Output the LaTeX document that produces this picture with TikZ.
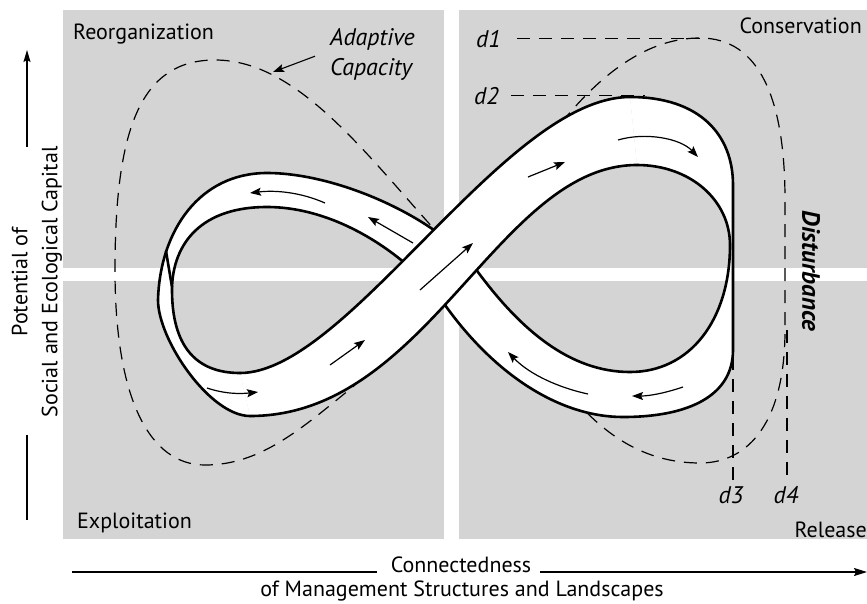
\documentclass[tikz,border=0pt]{standalone}
\usepackage{fontspec}
\setmainfont{PT Sans}
\usetikzlibrary{arrows.meta, positioning}

\definecolor{panel}{gray}{0.83}

\tikzset{
  band/.style={line width=2.6pt, line join=round, line cap=round},
  cycleline/.style={line width=1.2pt, dash pattern=on 13pt off 9pt},
  flow/.style={line width=1.2pt, -{Stealth[length=11pt, width=8pt, inset=2pt]}},
  lbl/.style={font=\fontsize{22}{30}\selectfont, inner sep=0pt},
  ilbl/.style={font=\fontsize{24}{30}\selectfont\itshape, inner sep=0pt},
}

\begin{document}
\begin{tikzpicture}[x=1pt, y=-1pt]
\useasboundingbox (0,0) rectangle (867,603);

% the four phases
\fill[panel] (63,10) rectangle (444,268);
\fill[panel] (459,10) rectangle (867,268);
\fill[panel] (63,281) rectangle (444,539);
\fill[panel] (459,281) rectangle (867,539);

% ends of the strand that passes over
\coordinate (ibl) at (240,373);
\coordinate (obl) at (250,416);
\coordinate (otr) at (630,97);
\coordinate (itr) at (637,165);
% fold at the left end
\coordinate (folda) at (166,251);
\coordinate (foldb) at (172,287);

% adaptive capacity, drawn under the band
\draw[cycleline] (445,241) .. controls (370,160) and (300,60) .. (215,60)
  .. controls (140,60) and (115,130) .. (115,270)
  .. controls (115,400) and (150,465) .. (205,465)
  .. controls (260,465) and (300,430) .. (355,385);
\draw[cycleline] (548,140) .. controls (600,70) and (650,38) .. (700,38)
  .. controls (760,38) and (785,100) .. (785,200) -- (785,330)
  .. controls (785,420) and (750,463) .. (700,463)
  .. controls (650,463) and (610,440) .. (575,400);

% disturbance levels
\node[ilbl, anchor=base west] (d1) at (476,47) {d1};
\node[ilbl, anchor=base west] (d2) at (474,104) {d2};
\node[ilbl, anchor=base] (d3) at (731,503) {d3};
\node[ilbl, anchor=base] (d4) at (786,503) {d4};
\coordinate (d1end) at (700,0);
\coordinate (d2end) at (645,0);
\coordinate (d3top) at (733,357);
\coordinate (d4top) at (787,330);
\path (d3top |- d3.north) coordinate (d3bot);
\path (d4top |- d4.north) coordinate (d4bot);
\draw[cycleline] ([xshift=16pt]d1.east) -- (d1.east -| d1end);
\draw[cycleline] ([xshift=12pt]d2.east) -- (d2.east -| d2end);
\draw[cycleline] (d3top) -- ([yshift=4pt]d3bot);
\draw[cycleline] (d4top) -- ([yshift=4pt]d4bot);

% back half of the band: left lobe top, under strand, right lobe bottom
\fill[white] (itr) .. controls (690,165) and (730,200) .. (730,245)
  .. controls (730,320) and (690,372) .. (630,372)
  .. controls (570,372) and (520,330) .. (475,268)
  .. controls (440,220) and (340,173) .. (267,173)
  .. controls (200,173) and (160,230) .. (158,300)
  .. controls (158,340) and (210,416) .. (obl)
  -- (ibl)
  .. controls (195,373) and (172,345) .. (172,290)
  .. controls (172,250) and (195,207) .. (267,207)
  .. controls (340,207) and (410,258) .. (445,305)
  .. controls (495,375) and (560,417) .. (623,417)
  .. controls (690,417) and (733,395) .. (733,350)
  -- (733,185)
  .. controls (733,135) and (700,97) .. (otr)
  -- cycle;
\draw[band] (itr) .. controls (690,165) and (730,200) .. (730,245)
  .. controls (730,320) and (690,372) .. (630,372)
  .. controls (570,372) and (520,330) .. (475,268)
  .. controls (440,220) and (340,173) .. (267,173)
  .. controls (200,173) and (160,230) .. (158,300)
  .. controls (158,340) and (210,416) .. (obl);
\draw[band] (ibl)
  .. controls (195,373) and (172,345) .. (172,290)
  .. controls (172,250) and (195,207) .. (267,207)
  .. controls (340,207) and (410,258) .. (445,305)
  .. controls (495,375) and (560,417) .. (623,417)
  .. controls (690,417) and (733,395) .. (733,350)
  -- (733,185)
  .. controls (733,135) and (700,97) .. (otr);
\draw[band] (folda) -- (foldb);

% strand passing over the crossing
\fill[white] (ibl) .. controls (348,373) and (505,97) .. (otr)
  -- (itr) .. controls (498,165) and (428,416) .. (obl) -- cycle;
\draw[band] (ibl) .. controls (348,373) and (505,97) .. (otr);
\draw[band] (obl) .. controls (428,416) and (498,165) .. (itr);

% direction of the cycle
\draw[flow] (618,140) .. controls (645,132) and (680,138) .. (698,157);
\draw[flow] (528,177) -- (565,162);
\draw[flow] (420,290) -- (473,243);
\draw[flow] (330,365) -- (365,340);
\draw[flow] (207,388) .. controls (225,394) and (240,394) .. (258,392);
\draw[flow] (325,203) .. controls (300,192) and (275,190) .. (250,193);
\draw[flow] (413,243) -- (368,217);
\draw[flow] (588,394) .. controls (560,388) and (530,375) .. (508,352);
\draw[flow] (683,387) .. controls (665,393) and (650,396) .. (632,396);

% phase names
\node[lbl, anchor=base west] (reorg) at (73,39) {Reorganization};
\node[lbl, anchor=base east] (cons) at (862,33) {Conservation};
\node[lbl, anchor=base west] (expl) at (77,528) {Exploitation};
\node[lbl, anchor=base east] (rel) at (867,537) {Release};
\node[ilbl, align=left, anchor=north west] (adapt) at (330,28) {Adaptive\\Capacity};
\node[lbl, rotate=-90, font=\fontsize{25}{30}\selectfont\bfseries\itshape] (dist) at (811,271) {Disturbance};
\coordinate (acmark) at (273,72);
\draw[line width=1.1pt, -{Stealth[length=11pt, width=8pt, inset=2pt]}] ([xshift=-15pt,yshift=-2pt]adapt.west) -- (acmark);

% axes
\coordinate (ylow) at (27,520);
\coordinate (ymid) at (27,435);
\coordinate (yup) at (27,147);
\coordinate (ytip) at (27,50);
\draw[line width=1.2pt] (ylow) -- (ymid);
\draw[line width=1.2pt, -{Stealth[length=12pt, width=7pt, inset=2pt]}] (yup) -- (ytip);
\node[lbl, rotate=90, align=center] (yaxis) at (37,282) {Potential of\\Social and Ecological Capital};

\node[lbl, anchor=base] (conn) at (461,572) {Connectedness};
\node[lbl, anchor=base] (mgmt) at (462,596) {of Management Structures and Landscapes};
\coordinate (xstart) at (72,572);
\coordinate (xend) at (867,572);
\draw[line width=1.2pt] (xstart) -- ([xshift=-14pt]conn.west |- xstart);
\draw[line width=1.2pt, -{Stealth[length=13pt, width=8pt, inset=2pt]}] ([xshift=9pt]conn.east |- xstart) -- (xend);
\end{tikzpicture}
\end{document}
